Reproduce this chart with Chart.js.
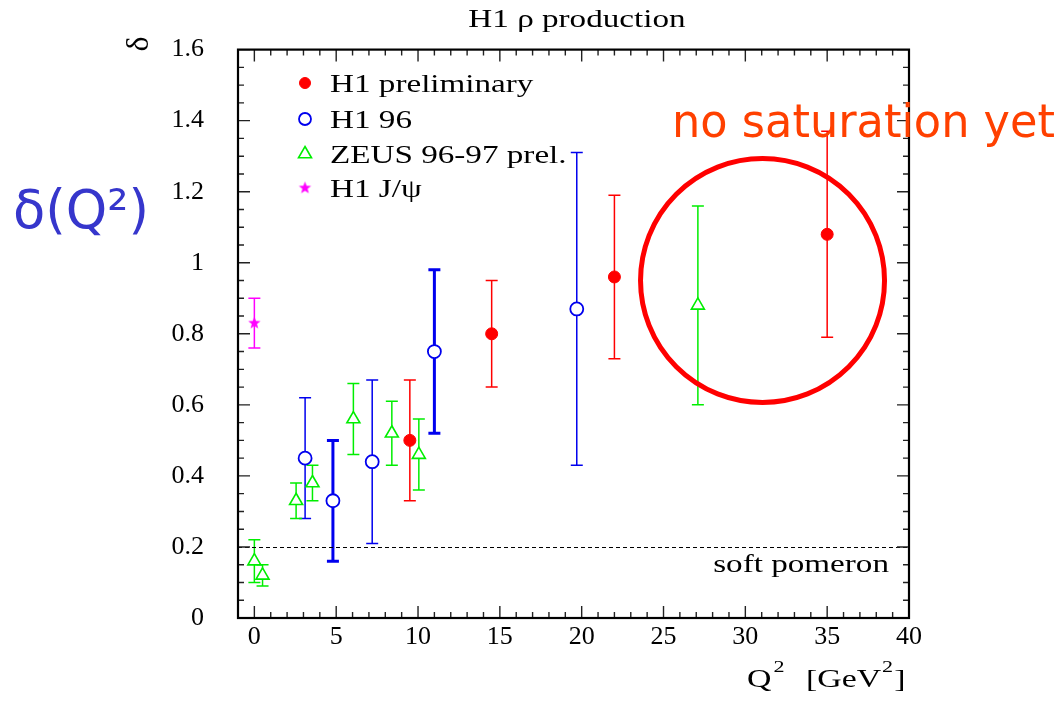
<!DOCTYPE html>
<html>
<head>
<meta charset="utf-8">
<script src="https://cdn.jsdelivr.net/npm/chart.js@4/dist/chart.umd.min.js"></script>
<style>
  html, body { margin: 0; padding: 0; background: #fff; }
  canvas { display: block; }
</style>
</head>
<body>
<canvas id="chart" width="1059" height="701"></canvas>
<script>
// --- data ---
const h1PrelQ2 = [9.5, 14.5, 22, 35];
const h1PrelDelta = [0.50, 0.80, 0.96, 1.08];
const h1PrelLo = [0.33, 0.65, 0.73, 0.79];
const h1PrelHi = [0.67, 0.95, 1.19, 1.37];

const h196Q2 = [3.1, 4.8, 7.2, 11, 19.7];
const h196Delta = [0.45, 0.33, 0.44, 0.75, 0.87];
const h196Lo = [0.28, 0.16, 0.21, 0.52, 0.43];
const h196Hi = [0.62, 0.50, 0.67, 0.98, 1.31];

const zeusQ2 = [0, 0.5, 2.55, 3.55, 6.05, 8.4, 10.05, 27.1];
const zeusDelta = [0.16, 0.12, 0.33, 0.38, 0.56, 0.52, 0.46, 0.88];
const zeusLo = [0.10, 0.09, 0.28, 0.33, 0.46, 0.43, 0.36, 0.60];
const zeusHi = [0.22, 0.15, 0.38, 0.43, 0.66, 0.61, 0.56, 1.16];

const jpsiQ2 = [0];
const jpsiDelta = [0.83];
const jpsiLo = [0.76];
const jpsiHi = [0.90];

const softPomeron = 0.2;
const xTickValues = [0, 5, 10, 15, 20, 25, 30, 35, 40];
const yTickValues = [0, 0.2, 0.4, 0.6, 0.8, 1, 1.2, 1.4, 1.6];
const seriesNames = ['H1 preliminary', 'H1 96', 'ZEUS 96-97 prel.', 'H1 J/\u03c8'];

const SERIF = '"Liberation Serif", "Times New Roman", serif';
const SX = 1.3; // the serif text in the original is stretched sideways

function toPoints(xs, ys) {
  return xs.map((x, i) => ({ x: x, y: ys[i] }));
}

// filled magenta star used as point style
function makeStar(r, color) {
  const c = document.createElement('canvas');
  c.width = c.height = Math.ceil(r * 2 + 2);
  const g = c.getContext('2d');
  const cx = c.width / 2, cy = c.height / 2;
  g.beginPath();
  for (let k = 0; k < 10; k++) {
    const rr = k % 2 === 0 ? r : r * 0.42;
    const a = -Math.PI / 2 + k * Math.PI / 5;
    g.lineTo(cx + rr * Math.cos(a), cy + rr * Math.sin(a));
  }
  g.closePath();
  g.fillStyle = color;
  g.fill();
  return c;
}
const starImg = makeStar(6.5, '#ff00ff');

function serifText(ctx, text, x, y, size, align) {
  ctx.save();
  ctx.font = size + 'px ' + SERIF;
  const w = ctx.measureText(text).width * SX;
  let left = x;
  if (align === 'right') left = x - w;
  else if (align === 'center') left = x - w / 2;
  ctx.translate(left, y);
  ctx.scale(SX, 1);
  ctx.textAlign = 'left';
  ctx.textBaseline = 'alphabetic';
  ctx.fillStyle = '#000';
  ctx.fillText(text, 0, 0);
  ctx.restore();
  return w;
}

function fitText(ctx, text, font, left, baseline, width, color) {
  ctx.save();
  ctx.font = font;
  const w = ctx.measureText(text).width;
  ctx.translate(left, baseline);
  ctx.scale(width / w, 1);
  ctx.textAlign = 'left';
  ctx.textBaseline = 'alphabetic';
  ctx.fillStyle = color;
  ctx.fillText(text, 0, 0);
  ctx.restore();
}

// error bars, drawn under the markers
const errorBars = {
  id: 'errorBars',
  beforeDatasetsDraw(chart) {
    const ctx = chart.ctx;
    const xs = chart.scales.x, ys = chart.scales.y;
    chart.data.datasets.forEach(ds => {
      ds.data.forEach((p, j) => {
        const x = xs.getPixelForValue(p.x);
        const y1 = ys.getPixelForValue(ds.errLo[j]);
        const y2 = ys.getPixelForValue(ds.errHi[j]);
        const w = ds.errWidth ? ds.errWidth[j] : 1.5;
        ctx.save();
        ctx.strokeStyle = ds.borderColor;
        ctx.lineWidth = w;
        ctx.beginPath();
        ctx.moveTo(x, y1); ctx.lineTo(x, y2);
        ctx.moveTo(x - 6, y1); ctx.lineTo(x + 6, y1);
        ctx.moveTo(x - 6, y2); ctx.lineTo(x + 6, y2);
        ctx.stroke();
        ctx.restore();
      });
    });

    // soft pomeron reference line
    const yp = Math.round(ys.getPixelForValue(softPomeron)) + 0.5;
    ctx.save();
    ctx.strokeStyle = '#000';
    ctx.lineWidth = 1;
    ctx.setLineDash([4, 3]);
    ctx.beginPath();
    ctx.moveTo(chart.chartArea.left, yp);
    ctx.lineTo(chart.chartArea.right, yp);
    ctx.stroke();
    ctx.restore();
  }
};

// frame, inward ticks, legend and all the extra text
const decorations = {
  id: 'decorations',
  afterDraw(chart) {
    const ctx = chart.ctx;
    const a = chart.chartArea;
    const xs = chart.scales.x, ys = chart.scales.y;

    ctx.save();
    ctx.strokeStyle = '#222';
    ctx.lineWidth = 1.4;
    ctx.beginPath();
    for (let v = 0; v <= 40; v++) {
      const x = xs.getPixelForValue(v);
      const len = v % 5 === 0 ? 12 : 6;
      ctx.moveTo(x, a.bottom); ctx.lineTo(x, a.bottom - len);
      ctx.moveTo(x, a.top); ctx.lineTo(x, a.top + len);
    }
    for (let i = 0; i <= 32; i++) {
      const y = ys.getPixelForValue(i * 0.05);
      const len = i % 4 === 0 ? 12 : 6;
      ctx.moveTo(a.left, y); ctx.lineTo(a.left + len, y);
      ctx.moveTo(a.right, y); ctx.lineTo(a.right - len, y);
    }
    ctx.stroke();
    ctx.strokeStyle = '#000';
    ctx.lineWidth = 2.2;
    ctx.strokeRect(a.left, a.top, a.right - a.left, a.bottom - a.top);
    ctx.restore();

    // legend
    const rows = [83, 119, 154, 188];
    chart.data.datasets.forEach((ds, i) => {
      ctx.save();
      ctx.fillStyle = ds.backgroundColor;
      ctx.strokeStyle = ds.borderColor;
      ctx.lineWidth = ds.borderWidth;
      Chart.helpers.drawPoint(ctx, {
        pointStyle: ds.pointStyle,
        radius: ds.legendRadius,
        borderWidth: ds.borderWidth,
        rotation: 0
      }, 305, rows[i]);
      ctx.restore();
      serifText(ctx, seriesNames[i], 330, rows[i] + 9, 25.5, 'left');
    });

    // title
    serifText(ctx, 'H1 \u03c1 production', 577, 27, 25.5, 'center');

    // rotated delta as y axis title
    ctx.save();
    ctx.translate(146, 44);
    ctx.rotate(-Math.PI / 2);
    ctx.font = '32px ' + SERIF;
    ctx.fillStyle = '#000';
    ctx.textAlign = 'center';
    ctx.textBaseline = 'middle';
    ctx.fillText('\u03b4', 0, -6);
    ctx.restore();

    // x axis title with superscripts
    let x = 747;
    x += serifText(ctx, 'Q', x, 687, 26, 'left') + 2;
    serifText(ctx, '2', x, 672, 17, 'left');
    x = 806;
    x += serifText(ctx, '[GeV', x, 687, 26, 'left') + 1;
    x += serifText(ctx, '2', x, 672, 17, 'left') + 1;
    serifText(ctx, ']', x, 687, 26, 'left');

    // soft pomeron label
    serifText(ctx, 'soft pomeron', 889, 572, 25.5, 'right');

    // annotations
    fitText(ctx, '\u03b4(Q\u00b2)', '54px "DejaVu Sans", sans-serif', 13, 228, 136, '#3636cc');
    fitText(ctx, 'no saturation yet', '46px "DejaVu Sans", sans-serif', 672, 137, 383, '#ff4000');

    const cx = xs.getPixelForValue(31.05);
    const cy = ys.getPixelForValue(0.95);
    ctx.save();
    ctx.strokeStyle = '#ff0000';
    ctx.lineWidth = 5;
    ctx.beginPath();
    ctx.arc(cx, cy, 122, 0, Math.PI * 2);
    ctx.stroke();
    ctx.restore();
  }
};

new Chart(document.getElementById('chart'), {
  type: 'scatter',
  data: {
    datasets: [
      {
        label: seriesNames[0],
        data: toPoints(h1PrelQ2, h1PrelDelta),
        errLo: h1PrelLo, errHi: h1PrelHi,
        pointStyle: 'circle', pointRadius: 6, legendRadius: 5.5,
        backgroundColor: '#ff0000', borderColor: '#ff0000', borderWidth: 1
      },
      {
        label: seriesNames[1],
        data: toPoints(h196Q2, h196Delta),
        errLo: h196Lo, errHi: h196Hi,
        errWidth: [1.5, 3, 1.5, 3, 1.5],
        pointStyle: 'circle', pointRadius: 6.5, legendRadius: 6,
        backgroundColor: '#ffffff', borderColor: '#0000ee', borderWidth: 1.8
      },
      {
        label: seriesNames[2],
        data: toPoints(zeusQ2, zeusDelta),
        errLo: zeusLo, errHi: zeusHi,
        pointStyle: 'triangle', pointRadius: 7.5, legendRadius: 7.5,
        backgroundColor: '#ffffff', borderColor: '#00ee00', borderWidth: 1.6
      },
      {
        label: seriesNames[3],
        data: toPoints(jpsiQ2, jpsiDelta),
        errLo: jpsiLo, errHi: jpsiHi,
        pointStyle: starImg, pointRadius: 6, legendRadius: 6,
        backgroundColor: '#ff00ff', borderColor: '#ff00ff', borderWidth: 1
      }
    ]
  },
  options: {
    responsive: false,
    animation: false,
    events: [],
    layout: { padding: { left: 0, right: 150, top: 46, bottom: 0 } },
    plugins: { legend: { display: false }, tooltip: { enabled: false }, title: { display: false } },
    scales: {
      x: {
        type: 'linear', min: -1, max: 40,
        grid: { display: false, drawTicks: false },
        border: { display: false },
        afterBuildTicks: s => { s.ticks = xTickValues.map(v => ({ value: v })); },
        afterFit: s => { s.height = 83; },
        ticks: { padding: 4, color: '#000', font: { family: SERIF, size: 26 } }
      },
      y: {
        type: 'linear', min: 0, max: 1.6,
        grid: { display: false, drawTicks: false },
        border: { display: false },
        afterBuildTicks: s => { s.ticks = yTickValues.map(v => ({ value: v })); },
        afterFit: s => { s.width = 238; },
        ticks: {
          padding: 34, color: '#000', font: { family: SERIF, size: 26 },
          callback: v => String(Number(v.toFixed(2)))
        }
      }
    }
  },
  plugins: [errorBars, decorations]
});
</script>
</body>
</html>
